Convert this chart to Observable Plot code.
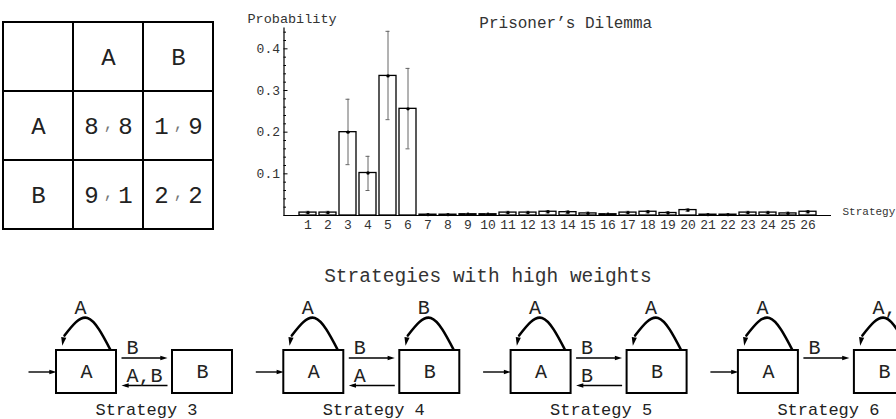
<!DOCTYPE html>
<html><head><meta charset="utf-8">
<script src="https://cdn.jsdelivr.net/npm/d3@7"></script>
<script src="https://cdn.jsdelivr.net/npm/@observablehq/plot@0.6"></script>
<style>
body{margin:0;background:#fff;}
#root{position:relative;width:896px;height:419px;overflow:hidden;background:#fff;}
#root svg{position:absolute;}
</style></head><body><div id="root"></div>
<script>
const FONT = '"Liberation Mono","Courier New",monospace';

// ---- payoff table data
const actions = ["A", "B"];
const payoffRowPlayer = [8, 1, 9, 2];   // cells (A,A),(A,B),(B,A),(B,B)
const payoffColPlayer = [8, 9, 1, 2];

// ---- bar chart data
const strategies = [1,2,3,4,5,6,7,8,9,10,11,12,13,14,15,16,17,18,19,20,21,22,23,24,25,26];
const probability = [0.007,0.007,0.200,0.102,0.335,0.256,0.002,0.002,0.003,0.003,0.007,0.007,0.009,0.008,0.005,0.003,0.007,0.009,0.006,0.013,0.002,0.002,0.007,0.007,0.005,0.009];
const errorLow  = [0.004,0.004,0.122,0.060,0.230,0.160,0.000,0.000,0.001,0.001,0.004,0.004,0.006,0.005,0.002,0.001,0.004,0.006,0.003,0.010,0.000,0.000,0.004,0.004,0.002,0.006];
const errorHigh = [0.010,0.010,0.279,0.142,0.442,0.353,0.004,0.004,0.005,0.005,0.010,0.010,0.012,0.011,0.008,0.005,0.010,0.012,0.009,0.016,0.004,0.004,0.010,0.010,0.008,0.012];
const yTicks = [0.1, 0.2, 0.3, 0.4];
const yMinorTicks = [0.02,0.04,0.06,0.08,0.12,0.14,0.16,0.18,0.22,0.24,0.26,0.28,0.32,0.34,0.36,0.38,0.42,0.44];

// ---- strategy automata
const strategyNames = ["Strategy 3", "Strategy 4", "Strategy 5", "Strategy 6"];
const loopOnA = ["A", "A", "A", "A"];
const loopOnB = [null, "B", "A", "A,B"];
const moveAtoB = ["B", "B", "B", "B"];
const moveBtoA = ["A,B", "A", "B", null];

const root = document.getElementById("root");
function place(svg, left, top) { svg.style.left = left + "px"; svg.style.top = top + "px"; root.appendChild(svg); }

// ================= TABLE =================
const cells = [];
for (let r = 0; r < 3; r++) for (let c = 0; c < 3; c++) cells.push({r, c});
const heads = actions.map((a, i) => ({a, i: i + 1}));
const payoffs = payoffRowPlayer.map((p, i) => ({r: Math.floor(i / 2) + 1, c: (i % 2) + 1, p1: p, p2: payoffColPlayer[i]}));
const table = Plot.plot({
  width: 220, height: 240, margin: 0,
  x: {type: "band", domain: [0,1,2], range: [3, 213], padding: 0, axis: null},
  y: {type: "band", domain: [0,1,2], range: [22, 229], padding: 0, axis: null},
  style: {background: "transparent", fontFamily: FONT},
  marks: [
    Plot.cell(cells, {x: "c", y: "r", fill: "white", stroke: "black", strokeWidth: 2, inset: 0}),
    Plot.text(heads, {x: "i", y: () => 0, text: "a", fontSize: 24, fill: "#222"}),
    Plot.text(heads, {x: () => 0, y: "i", text: "a", fontSize: 24, fill: "#222"}),
    Plot.text(payoffs, {x: "c", y: "r", text: "p1", dx: -17, fontSize: 24, fill: "#222"}),
    Plot.text(payoffs, {x: "c", y: "r", text: () => ",", dx: 0, dy: -2, fontSize: 16, fill: "#777"}),
    Plot.text(payoffs, {x: "c", y: "r", text: "p2", dx: 17, fontSize: 24, fill: "#222"})
  ]
});
place(table, 0, 0);

// ================= BAR CHART =================
const bars = strategies.map((s, i) => ({s, p: probability[i], lo: errorLow[i], hi: errorHigh[i]}));
const chart = Plot.plot({
  width: 676, height: 240,
  marginLeft: 63.5, marginRight: 65, marginTop: 27.5, marginBottom: 25,
  x: {type: "band", domain: strategies, padding: 0.15},
  y: {domain: [0, 0.45]},
  style: {background: "transparent", fontFamily: FONT, overflow: "visible"},
  marks: [
    Plot.barY(bars, {x: "s", y: "p", fill: "white", stroke: "black", strokeWidth: 1.3}),
    Plot.ruleX(bars, {x: "s", y1: "lo", y2: "hi", stroke: "#666", strokeWidth: 1}),
    Plot.tickY(bars, {x: "s", y: "hi", stroke: "#666", insetLeft: 6.5, insetRight: 6.5}),
    Plot.tickY(bars, {x: "s", y: "lo", stroke: "#666", insetLeft: 6.5, insetRight: 6.5}),
    Plot.dot(bars, {x: "s", y: "p", r: 1.7, fill: "black"}),
    Plot.ruleY([0], {stroke: "black", strokeWidth: 1.2}),
    Plot.frame({anchor: "left", stroke: "black", strokeWidth: 1.2}),
    Plot.axisY({ticks: yTicks, tickSize: 0, tickPadding: 4, tickFormat: d3.format(".1f"), fontSize: 13, fill: "#333", label: null}),
    Plot.axisY({ticks: yTicks, tickSize: -4, tickFormat: () => "", label: null}),
    Plot.axisY({ticks: yMinorTicks, tickSize: -2.5, tickFormat: () => "", label: null}),
    Plot.axisX({tickSize: 0, tickPadding: 4, fontSize: 13, fill: "#333", label: null}),
    Plot.text(["Probability"], {frameAnchor: "top-left", dx: -36.5, dy: -14.5, textAnchor: "start", fontSize: 13.5, fill: "#333"}),
    Plot.text(["Prisoner\u2019s Dilemma"], {frameAnchor: "top", dx: 8, dy: -11.5, fontSize: 16, fill: "#333"}),
    Plot.text(["Strategy"], {frameAnchor: "bottom-right", dx: 11, dy: -1, textAnchor: "start", fontSize: 11, fill: "#333"})
  ]
});
place(chart, 220, 0);

// ================= STRATEGY DIAGRAMS =================
const slot = 227.3;
const boxTop = 350, boxBottom = 393, boxMid = 371.5;
const boxes = [], arrows = [], loops = [], loopHeads = [], labels = [];
strategyNames.forEach((name, k) => {
  const ox = k * slot;
  const ax = ox + 56, bx = ox + 172;
  boxes.push({x1: ax, x2: ax + 60, label: "A"}, {x1: bx, x2: bx + 60, label: "B"});
  arrows.push({x1: ox + 28, x2: ax, y: boxMid});
  if (moveAtoB[k]) { arrows.push({x1: ox + 121, x2: ox + 167, y: 357.5}); labels.push({x: ox + 126, y: 347, t: moveAtoB[k]}); }
  if (moveBtoA[k]) { arrows.push({x1: ox + 167, x2: ox + 121, y: 385}); labels.push({x: ox + 126, y: 375, t: moveBtoA[k]}); }
  [[ax, loopOnA[k]], [bx, loopOnB[k]]].forEach(([lx, lab], j) => {
    if (!lab) return;
    const id = k * 2 + j;
    loops.push({id, x: lx + 54, y: boxTop - 0.5}, {id, x: lx + 31, y: 317.5}, {id, x: lx + 8, y: 335});
    loopHeads.push({x: lx + 6.5, y: 341});
    labels.push({x: lx + 18, y: 307, t: lab});
  });
  labels.push({x: ox + 146, y: 409, t: name, center: true});
});
const headSymbol = {draw(ctx, size) { const r = Math.sqrt(size / Math.PI); ctx.moveTo(r, 0); ctx.lineTo(-r, -r * 0.62); ctx.lineTo(-r, r * 0.62); ctx.closePath(); }};
const headR = 3.6;
const diagrams = Plot.plot({
  width: 896, height: 179, margin: 0,
  x: {domain: [0, 896], range: [0, 896], axis: null},
  y: {domain: [240, 419], range: [0, 179], axis: null},
  style: {background: "transparent", fontFamily: FONT},
  marks: [
    Plot.text(["Strategies with high weights"], {x: () => 487.5, y: () => 275, fontSize: 19.5, fill: "#333"}),
    Plot.line(loops, {x: "x", y: "y", z: "id", curve: "natural", stroke: "black", strokeWidth: 2.6}),
    Plot.dot(loopHeads, {x: "x", y: "y", symbol: headSymbol, r: 4.2, rotate: 100, fill: "black", stroke: "none"}),
    Plot.link(arrows, {x1: "x1", y1: "y", x2: d => d.x2 - Math.sign(d.x2 - d.x1) * headR, y2: "y", stroke: "black", strokeWidth: 1.4}),
    Plot.dot(arrows, {x: d => d.x2 - Math.sign(d.x2 - d.x1) * headR, y: "y", symbol: headSymbol, r: headR, rotate: d => d.x2 > d.x1 ? 0 : 180, fill: "black", stroke: "none"}),
    Plot.rect(boxes, {x1: "x1", x2: "x2", y1: () => boxTop, y2: () => boxBottom, fill: "white", stroke: "black", strokeWidth: 2}),
    Plot.text(boxes, {x: d => (d.x1 + d.x2) / 2, y: () => boxMid, text: "label", fontSize: 20, fill: "#222"}),
    Plot.text(labels.filter(d => !d.center), {x: "x", y: "y", text: "t", textAnchor: "start", fontSize: 20, fill: "#222"}),
    Plot.text(labels.filter(d => d.center), {x: "x", y: "y", text: "t", fontSize: 17, fill: "#222"})
  ]
});
place(diagrams, 0, 240);
</script></body></html>
